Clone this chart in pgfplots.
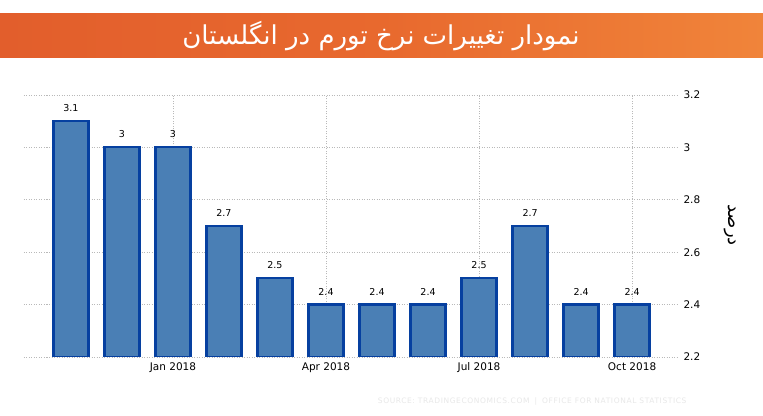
\documentclass[border=0pt]{standalone}
\usepackage{pgfplots}
\pgfplotsset{compat=1.18}
\usepackage{fontspec}
\setmainfont{DejaVu Sans}
\newfontfamily\arabicfont[Script=Arabic]{DejaVu Sans}
\TeXXeTstate=1
\definecolor{barfill}{HTML}{4A7FB5}
\definecolor{baredge}{HTML}{0640A0}
\definecolor{bannerL}{HTML}{E25E2C}
\definecolor{bannerM}{HTML}{E8692E}
\definecolor{bannerR}{HTML}{F0843A}
\begin{document}
\begin{tikzpicture}
\fill[white] (0pt,0pt) rectangle (763pt,415pt);
% title banner
\shade[left color=bannerL, right color=bannerR, middle color=bannerM] (0pt,357pt) rectangle (763pt,401pt);
\node[white, font=\arabicfont\fontsize{26}{30}\selectfont] at (381pt,379pt) {\beginR نمودار تغییرات نرخ تورم در انگلستان\endR};
\begin{axis}[
    at={(24pt,58pt)}, anchor=south west,
    scale only axis, width=654pt, height=262pt,
    xmin=-0.92, xmax=11.9,
    ymin=2.2, ymax=3.2,
    ybar, bar width=35pt,
    axis line style={draw=none},
    major tick length=0pt,
    xtick={2,5,8,11},
    xticklabels={Jan 2018, Apr 2018, Jul 2018, Oct 2018},
    ytick={2.2,2.4,2.6,2.8,3,3.2},
    yticklabel pos=right,
    xmajorgrids, ymajorgrids,
    grid style={gray!55, line width=0.8pt, dash pattern=on 1pt off 1.5pt},
    /pgf/number format/assume math mode=true,
    tick label style={font=\fontsize{10.5}{12}\selectfont, text=black},
    yticklabel style={anchor=west, xshift=2pt},
    xticklabel style={yshift=-2pt},
]
\addplot[fill=barfill, draw=baredge, line width=2.2pt,
    nodes near coords,
    every node near coord/.append style={font=\fontsize{9.5}{11}\selectfont, text=black, yshift=5pt}]
    coordinates {(0,3.1) (1,3) (2,3) (3,2.7) (4,2.5) (5,2.4) (6,2.4) (7,2.4) (8,2.5) (9,2.7) (10,2.4) (11,2.4)};
\end{axis}
\node[rotate=-90, font=\arabicfont\fontsize{18}{20}\selectfont] at (730pt,190pt) {\beginR درصد\endR};
\node[anchor=east, text=gray!18, font=\fontsize{7.5}{9}\selectfont\addfontfeature{LetterSpace=8}] at (690pt,13pt) {SOURCE: TRADINGECONOMICS.COM \;|\; OFFICE FOR NATIONAL STATISTICS};
\end{tikzpicture}
\end{document}
